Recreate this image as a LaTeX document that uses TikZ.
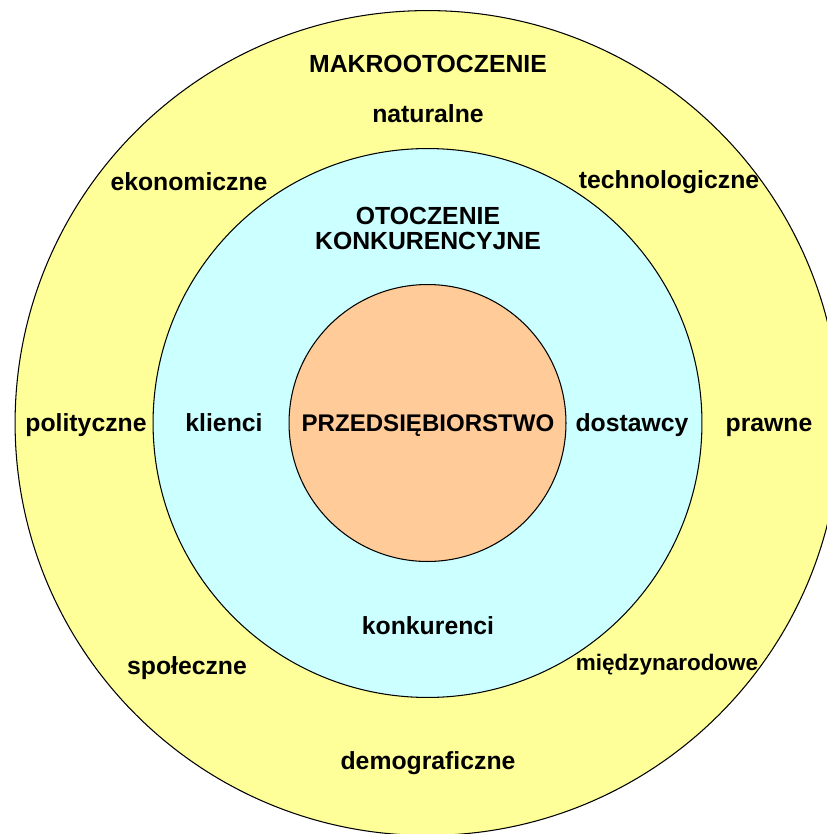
\documentclass[tikz,border=0pt]{standalone}
\usepackage{fontspec}
\setmainfont{Liberation Sans}
\usepackage{tikz}
\usetikzlibrary{positioning}
\definecolor{envyellow}{RGB}{255,255,153}
\definecolor{envcyan}{RGB}{204,255,255}
\definecolor{envorange}{RGB}{255,204,153}

\begin{document}
\begin{tikzpicture}[x=0.02cm, y=-0.02cm,
  ring/.style={draw=black, line width=0.6pt, circle, inner sep=0pt, outer sep=0pt},
  label/.style={font=\bfseries\fontsize{14.1}{14.8}\selectfont, anchor=base, inner sep=0pt}]
\useasboundingbox (0,0) rectangle (827,834);
\clip (0,0) rectangle (827,834);
% Rings
\node[ring, fill=envyellow, minimum size=16.5cm] (makro) at (427.5,423) {};
\node[ring, fill=envcyan, minimum size=10.98cm] (konk) at (427.5,423) {};
\node[ring, fill=envorange, minimum size=5.54cm] (firma) at (427.5,423) {};
% Macro environment
\node[label] (makrotitle) at (428,72.5) {MAKROOTOCZENIE};
\node[label] (naturalne) at (428,122.5) {naturalne};
\node[label] (ekonomiczne) at (189,190.5) {ekonomiczne};
\node[label] (technologiczne) at (669,189) {technologiczne};
\node[label] (polityczne) at (86,431.5) {polityczne};
\node[label] (prawne) at (769,431.5) {prawne};
\node[label] (spoleczne) at (187,674) {społeczne};
\node[label, font=\bfseries\fontsize{12.8}{14}\selectfont] (miedzynarodowe) at (667,670) {międzynarodowe};
\node[label] (demograficzne) at (428,769) {demograficzne};
% Competitive environment
\node[label] (otoczenie) at (428,225) {OTOCZENIE};
\node[label] (konkurencyjne) at (428,250) {KONKURENCYJNE};
\node[label] (klienci) at (224,431.5) {klienci};
\node[label] (dostawcy) at (632,431.5) {dostawcy};
\node[label] (konkurenci) at (428,634.5) {konkurenci};
% Company
\node[label, font=\bfseries\fontsize{13.7}{14.8}\selectfont] (firmatitle) at (428,431.5) {PRZEDSIĘBIORSTWO};
\end{tikzpicture}
\end{document}
